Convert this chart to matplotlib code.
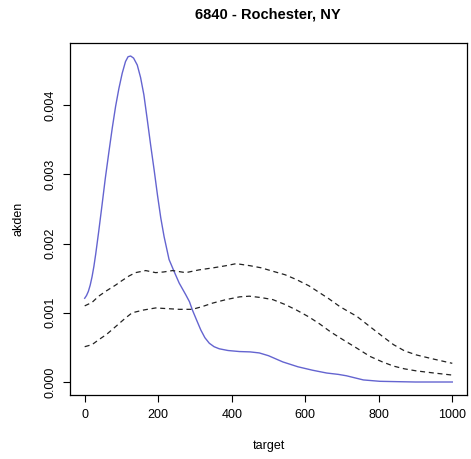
import matplotlib
matplotlib.use("Agg")
import matplotlib.pyplot as plt

# density estimate (solid)
x_den = [0, 5, 10, 15, 20, 25, 30, 38, 47, 56, 66, 75, 84, 93, 102, 111, 118,
         125, 133, 143, 152, 161, 170, 179.5, 189, 198, 207, 216, 229.5, 243,
         257, 275, 285, 293, 304, 316, 327, 339, 352, 366, 390, 421, 450, 475,
         500, 539, 580, 620, 658, 690, 712, 735, 758, 803, 850, 900, 1000]
y_den = [0.00121, 0.00125, 0.00131, 0.00140, 0.00152, 0.00167, 0.00185, 0.00217,
         0.00255, 0.00294, 0.00333, 0.00367, 0.00398, 0.00424, 0.00446, 0.00463,
         0.00470, 0.00471, 0.00468, 0.00458, 0.00440, 0.00415, 0.00380, 0.00342,
         0.00306, 0.00270, 0.00237, 0.00210, 0.00177, 0.00160, 0.00143, 0.00126,
         0.00116, 0.00104, 0.00090, 0.00075, 0.00064, 0.00056, 0.00051, 0.00048,
         0.000455, 0.00044, 0.000435, 0.00042, 0.00038, 0.00029, 0.00022,
         0.00017, 0.00013, 0.00011, 0.00009, 0.00006, 0.00003, 0.00001,
         0.000005, 0.0, 0.0]

# upper envelope (dashed)
x_up = [0, 20, 38, 60, 84, 100, 120, 138, 166, 193, 215, 239, 275, 311, 350,
        384, 412, 450, 480, 512, 545, 576, 610, 639, 665, 694, 720, 740, 776,
        810, 840, 870, 903, 950, 1000]
y_up = [0.00110, 0.00115, 0.00124, 0.00132, 0.00140, 0.00146, 0.00153, 0.00158,
        0.00161, 0.00158, 0.00159, 0.00161, 0.00158, 0.00162, 0.00165, 0.00168,
        0.00171, 0.00168, 0.00165, 0.00160, 0.00155, 0.00148, 0.00139, 0.00129,
        0.00120, 0.00109, 0.00101, 0.00095, 0.00080, 0.00066, 0.00054, 0.00045,
        0.00039, 0.00033, 0.00027]

# lower envelope (dashed)
x_lo = [0, 20, 38, 60, 84, 110, 129, 160, 193, 225, 257, 293, 320, 348, 384,
        421, 448, 480, 512, 545, 576, 610, 639, 670, 703, 740, 776, 810, 840,
        870, 903, 950, 1000]
y_lo = [0.00051, 0.00054, 0.00061, 0.00069, 0.00080, 0.00092, 0.00100, 0.00104,
        0.00107, 0.00106, 0.00105, 0.00105, 0.00109, 0.00114, 0.00119, 0.00123,
        0.00124, 0.00122, 0.00119, 0.00112, 0.00104, 0.00094, 0.00084, 0.00072,
        0.00061, 0.00049, 0.00037, 0.00029, 0.00023, 0.00019, 0.00016, 0.00013,
        0.00010]

xticks = [0, 200, 400, 600, 800, 1000]
yticks = [0.000, 0.001, 0.002, 0.003, 0.004]

plt.rcParams['font.family'] = ['Liberation Sans', 'DejaVu Sans']

fig = plt.figure(figsize=(4.71, 4.59), dpi=100)
ax = fig.add_axes([0.1486, 0.1394, 0.8429, 0.7669])

ax.plot(x_den, y_den, color='#6464D0', linewidth=1.0)
ax.plot(x_up, y_up, color='#222222', linestyle=(0, (4, 3)), linewidth=0.9)
ax.plot(x_lo, y_lo, color='#222222', linestyle=(0, (4, 3)), linewidth=0.9)

ax.set_xlim(-40, 1040)
ax.set_ylim(-0.000188, 0.004898)
ax.set_xticks(xticks)
ax.set_xticklabels([str(t) for t in xticks], fontsize=9)
ax.set_yticks(yticks)
ax.set_yticklabels(['%.3f' % t for t in yticks], fontsize=9, rotation=90,
                   va='center')
ax.tick_params(direction='out', length=5, width=0.8, pad=5)
for s in ax.spines.values():
    s.set_linewidth(0.9)

ax.set_xlabel('target', fontsize=9, labelpad=14)
ax.set_ylabel('akden', fontsize=9, labelpad=14)
fig.text(0.568, 0.969, '6840 - Rochester, NY', ha='center', va='center',
         fontsize=10.5, fontweight='bold')

fig.savefig('out.png', dpi=100)
